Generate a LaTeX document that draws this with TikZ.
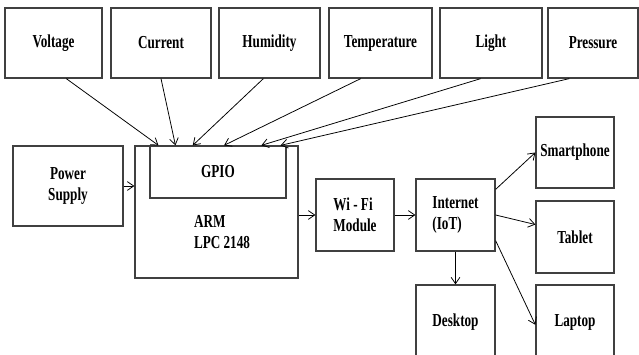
\documentclass[tikz,border=0pt]{standalone}
\usepackage{fontspec}
\setmainfont{Liberation Serif}[FakeStretch=0.72]
\usetikzlibrary{arrows.meta,positioning,calc}

\begin{document}
\begin{tikzpicture}[>={Straight Barb[length=1.6mm,width=2.2mm]},
    blk/.style={draw=black!75,line width=0.9pt,fill=white,inner sep=1pt,
                align=center,font=\fontsize{13}{15}\selectfont\bfseries},
    link/.style={->,line width=0.55pt}]
  \useasboundingbox (0,0) rectangle (15.975,-8.875);
  \clip (0,0) rectangle (15.975,-8.875);
  %% Sensor row
  \node[blk,minimum width=2.425cm,minimum height=1.75cm] (volt)  at (1.3375,-1.075) {Voltage};
  \node[blk,minimum width=2.5cm,  minimum height=1.75cm] (curr)  at (4.025,-1.075)  {Current};
  \node[blk,minimum width=2.525cm,minimum height=1.75cm] (humid) at (6.7375,-1.075) {Humidity};
  \node[blk,minimum width=2.575cm,minimum height=1.75cm] (temp)  at (9.5125,-1.075) {Temperature};
  \node[blk,minimum width=2.55cm, minimum height=1.75cm] (light) at (12.275,-1.075) {Light};
  \node[blk,minimum width=2.25cm, minimum height=1.75cm] (press) at (14.825,-1.075) {Pressure};
  %% Controller
  \node[blk,minimum width=2.75cm,minimum height=2.0cm] (power) at (1.7,-4.65) {Power\\Supply};
  \node[blk,minimum width=4.075cm,minimum height=3.3cm] (arm) at (5.4125,-5.3) {};
  \node[blk,minimum width=3.4cm,minimum height=1.3cm] (gpio) at (5.45,-4.3) {GPIO};
  \node[align=left,font=\fontsize{13}{15}\selectfont\bfseries] (armtext) at (5.55,-5.8) {ARM\\LPC 2148};
  %% Network side
  \node[blk,align=left,minimum width=1.95cm,minimum height=1.8cm] (wifi) at (8.875,-5.375) {Wi - Fi\\Module};
  \node[blk,align=left,minimum width=1.975cm,minimum height=1.8cm] (inet) at (11.3875,-5.375) {Internet\\(IoT)};
  \node[blk,minimum width=1.95cm,minimum height=1.775cm] (phone) at (14.375,-3.8125) {Smartphone};
  \node[blk,minimum width=1.95cm,minimum height=1.8cm] (tablet) at (14.375,-5.925) {Tablet};
  \node[blk,minimum width=1.95cm,minimum height=1.875cm] (laptop) at (14.375,-8.0625) {Laptop};
  \node[blk,minimum width=1.975cm,minimum height=1.875cm] (desk) at (11.3875,-8.0625) {Desktop};
  %% Sensor links into GPIO
  \foreach \src/\a/\b in {volt/0.63/0.066,curr/0.5/0.19,humid/0.44/0.316,
                          temp/0.31/0.544,light/0.4/0.816,press/0.24/0.956}
    \draw[link] ($(\src.south west)!\a!(\src.south east)$) -- ($(gpio.north west)!\b!(gpio.north east)$);
  %% Main chain
  \draw[link] (power.east) -- (power.east -| arm.west);
  \draw[link] (wifi.west -| arm.east) -- (wifi.west);
  \draw[link] (wifi) -- (inet);
  \draw[link] ($(inet.north east)!0.15!(inet.south east)$) -- (phone.west);
  \draw[link] (inet.east) -- ($(tablet.north west)!0.33!(tablet.south west)$);
  \draw[link] ($(inet.north east)!0.85!(inet.south east)$) -- ($(laptop.north west)!0.53!(laptop.south west)$);
  \draw[link] (inet) -- (desk);
\end{tikzpicture}
\end{document}
